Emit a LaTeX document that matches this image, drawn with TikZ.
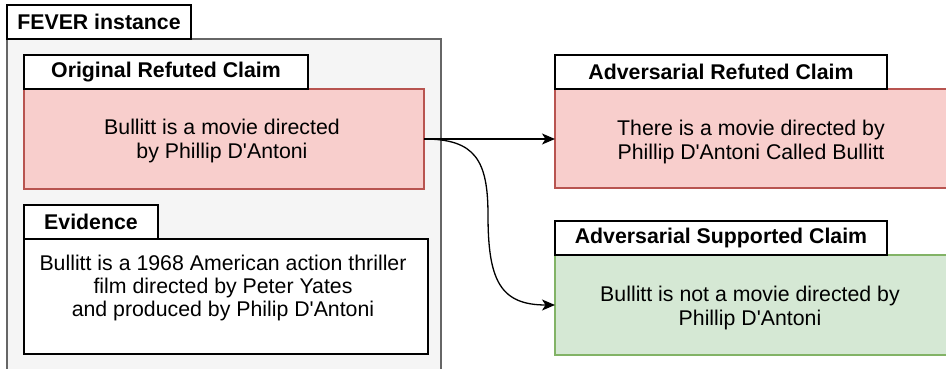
\documentclass[tikz,border=0pt]{standalone}
\usepackage{fontspec}
\setmainfont{Liberation Sans}
\usetikzlibrary{arrows.meta}
\definecolor{redfill}{HTML}{F8CECC}
\definecolor{redline}{HTML}{B85450}
\definecolor{greenfill}{HTML}{D5E8D4}
\definecolor{greenline}{HTML}{82B366}
\definecolor{contfill}{HTML}{F5F5F5}
\definecolor{contline}{HTML}{666666}
\newcommand{\apos}{\textquotesingle}
\begin{document}
\begin{tikzpicture}[x=1pt,y=-1pt,
  every node/.style={inner sep=0pt, outer sep=0pt},
  bodytext/.style={font=\fontsize{21.3}{23.4}\selectfont, align=center, anchor=center},
  tabbox/.style={draw=black, fill=white, line width=1.2pt, anchor=north west,
    font=\fontsize{21.3}{23.4}\selectfont\bfseries},
  container/.style={draw=contline, fill=contfill, line width=1.2pt, anchor=north west},
  redbox/.style={draw=redline, fill=redfill, line width=1.2pt, anchor=north west},
  greenbox/.style={draw=greenline, fill=greenfill, line width=1.2pt, anchor=north west},
  whitebox/.style={draw=black, fill=white, line width=1.2pt, anchor=north west},
  arr/.style={-{Stealth[length=13pt,width=11pt,inset=3.5pt]}, line width=1.3pt, draw=black}
]
\useasboundingbox (0,0) rectangle (946,369);
\clip (0,0) rectangle (946,369);

% FEVER container
\node[container, minimum width=434pt, minimum height=345pt] (fever) at (7,39) {};
\node[tabbox, minimum width=184pt, minimum height=34pt] (fevertab) at (7,5) {FEVER instance};

% Original refuted claim
\node[redbox, minimum width=400pt, minimum height=100pt] (orig) at (24,89) {};
\node[tabbox, minimum width=284pt, minimum height=34pt] (origtab) at (24,55) {Original Refuted Claim};
\node[bodytext] (origtext) at (222,141) {Bullitt is a movie directed\\by Phillip D\apos Antoni};

% Evidence
\node[whitebox, minimum width=404pt, minimum height=115pt] (evid) at (24,239) {};
\node[tabbox, minimum width=134pt, minimum height=34pt] (evidtab) at (24,205) {Evidence};
\node[bodytext] (evidtext) at (223,288) {Bullitt is a 1968 American action thriller\\film directed by Peter Yates\\and produced by Philip D\apos Antoni};

% Adversarial refuted claim
\node[redbox, minimum width=400pt, minimum height=99pt] (advref) at (555,89) {};
\node[tabbox, minimum width=332pt, minimum height=34pt] (advreftab) at (555,55) {Adversarial Refuted Claim};
\node[bodytext] (advreftext) at (751,142) {There is a movie directed by\\Phillip D\apos Antoni Called Bullitt};

% Adversarial supported claim
\node[greenbox, minimum width=400pt, minimum height=100pt] (advsup) at (555,255) {};
\node[tabbox, minimum width=332pt, minimum height=34pt] (advsuptab) at (555,221) {Adversarial Supported Claim};
\node[bodytext] (advsuptext) at (750,308) {Bullitt is not a movie directed by\\Phillip D\apos Antoni};

% Connectors
\coordinate (bend) at (488,215);
\draw[arr] (orig.east) -- (orig.east -| advref.west);
\draw[arr] (orig.east) .. controls +(51,0) and (488,160) .. (bend)
  .. controls (488,280) and (500,305) .. (advsup.west);
\end{tikzpicture}
\end{document}
